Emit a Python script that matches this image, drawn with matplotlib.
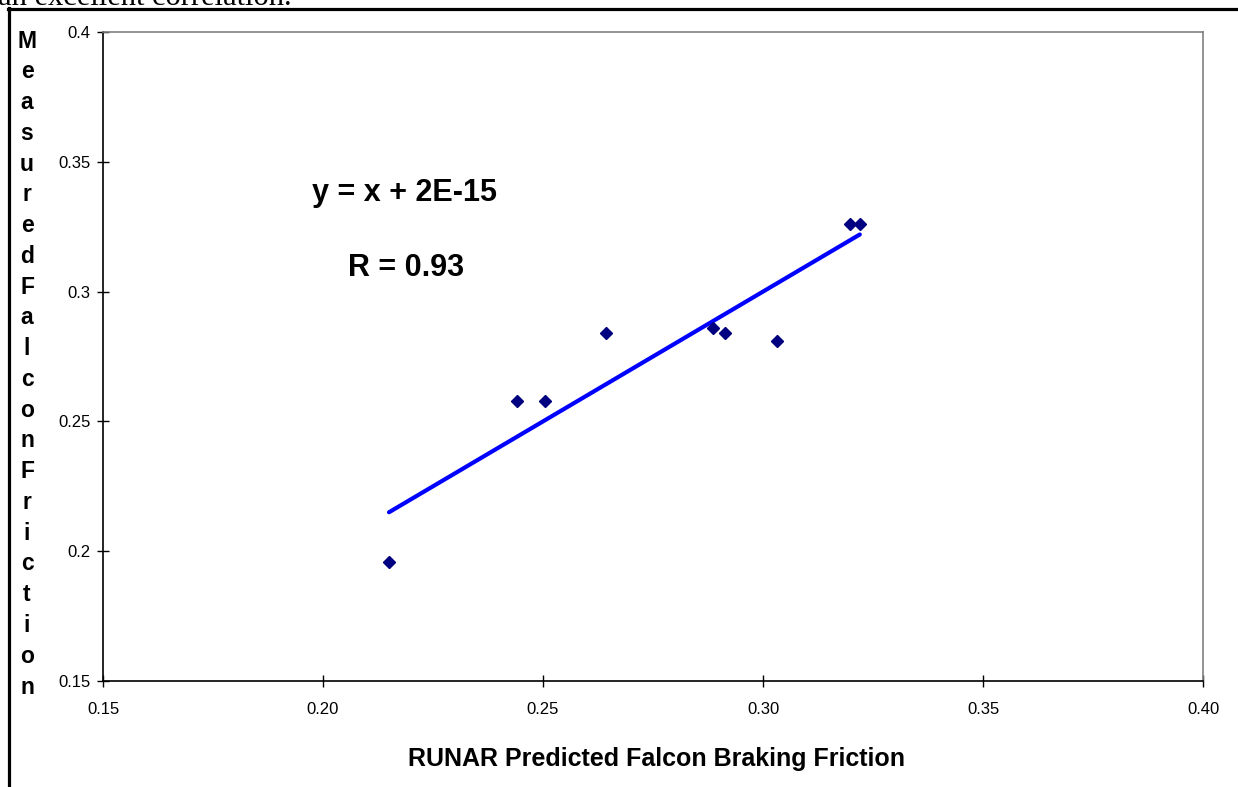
import matplotlib
matplotlib.use("Agg")
import matplotlib.pyplot as plt
from matplotlib.lines import Line2D
import numpy as np

# Data
predicted = [0.215, 0.244, 0.2505, 0.2643, 0.2886, 0.2914, 0.3032, 0.3198, 0.322]
measured = [0.196, 0.258, 0.258, 0.284, 0.286, 0.284, 0.281, 0.326, 0.326]
trend_slope = 1.0
trend_intercept = 2e-15
x_ticks = [0.15, 0.20, 0.25, 0.30, 0.35, 0.40]
y_ticks = [0.15, 0.2, 0.25, 0.3, 0.35, 0.4]
y_tick_labels = ["0.15", "0.2", "0.25", "0.3", "0.35", "0.4"]
x_tick_labels = ["0.15", "0.20", "0.25", "0.30", "0.35", "0.40"]
x_label = "RUNAR Predicted Falcon Braking Friction"
y_label = "MeasuredFalconFriction"
eq_text = "y = x + 2E-15"
r_text = "R = 0.93"
top_text = "an excellent correlation."

plt.rcParams['font.family'] = ['Liberation Sans', 'DejaVu Sans']

W, H = 1238, 787
fig = plt.figure(figsize=(W / 100, H / 100), dpi=100)
ax = fig.add_axes([103 / W, 1 - 681 / H, 1100 / W, 649 / H])

ax.plot(predicted, measured, linestyle='none', marker='D', markersize=5.8,
        color='#000080', zorder=3)
xs = np.array([min(predicted), max(predicted)])
ax.plot(xs, trend_slope * xs + trend_intercept, color='#0000FF', lw=3,
        solid_capstyle='round', zorder=2)

ax.set_xlim(0.15, 0.40)
ax.set_ylim(0.15, 0.40)
ax.set_xticks(x_ticks)
ax.set_xticklabels(x_tick_labels)
ax.set_yticks(y_ticks)
ax.set_yticklabels(y_tick_labels)
ax.tick_params(direction='inout', length=8, width=1, labelsize=12, pad=5,
               colors='black')
ax.tick_params(axis='x', pad=11)
for s in ['top', 'right']:
    ax.spines[s].set_color('#808080')
    ax.spines[s].set_linewidth(1.2)
for s in ['left', 'bottom']:
    ax.spines[s].set_color('black')
    ax.spines[s].set_linewidth(1.2)

ax.text(405 / W, 1 - 193 / H, eq_text, transform=fig.transFigure,
        ha='center', va='center', fontsize=22, fontweight='bold')
ax.text(406 / W, 1 - 268 / H, r_text, transform=fig.transFigure,
        ha='center', va='center', fontsize=22, fontweight='bold')

fig.text(657 / W, 1 - 759 / H, x_label, ha='center', va='center',
         fontsize=18, fontweight='bold')

n = len(y_label)
y0, y1 = 41, 687
for i, ch in enumerate(y_label):
    yp = y0 + (y1 - y0) * i / (n - 1)
    fig.text(27 / W, 1 - yp / H, ch, ha='center', va='center',
             fontsize=16.5, fontweight='bold')

fig.text(-0.002, 1 - 5 / H, top_text, ha='left', va='baseline',
         fontsize=22, family='Liberation Serif')

# outer frame
fig.add_artist(Line2D([8.5 / W, 8.5 / W], [1 - 8 / H, 0], transform=fig.transFigure,
                      color='black', lw=2.3))
fig.add_artist(Line2D([7.5 / W, 1], [1 - 9 / H, 1 - 9 / H], transform=fig.transFigure,
                      color='black', lw=2.3))

fig.savefig('out.png', dpi=100)
